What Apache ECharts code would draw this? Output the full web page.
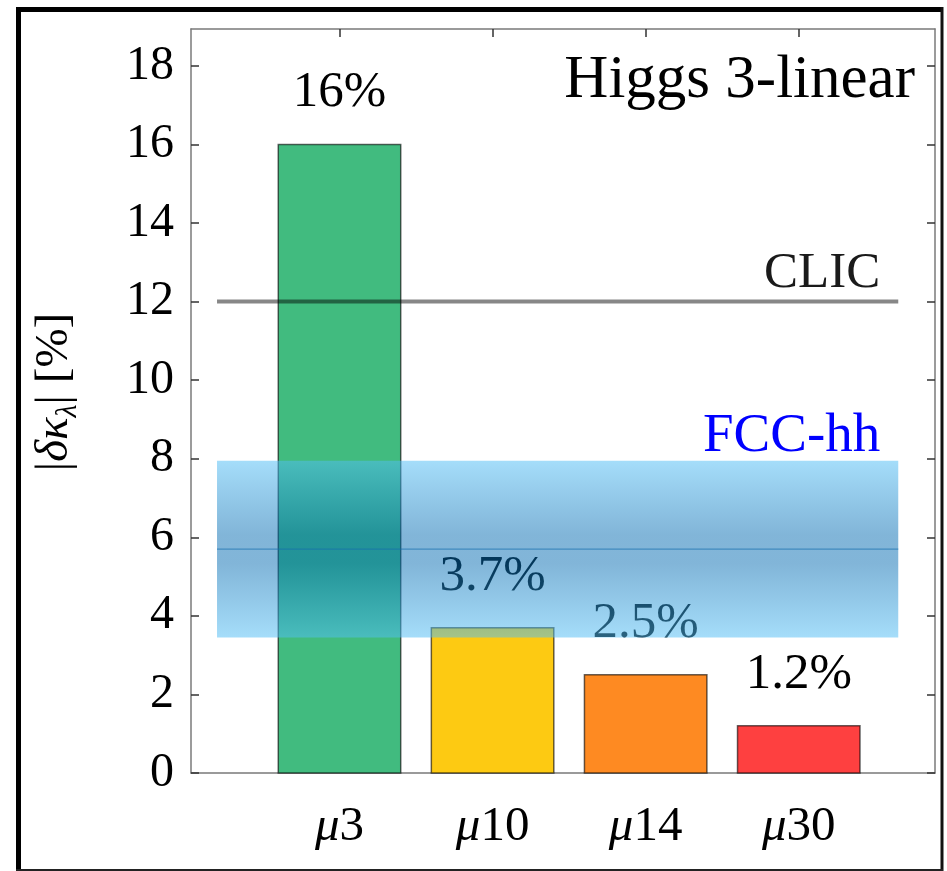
<!DOCTYPE html>
<html>
<head>
<meta charset="utf-8">
<script src="https://cdn.jsdelivr.net/npm/echarts@6/dist/echarts.min.js"></script>
<style>
  html, body { margin: 0; padding: 0; background: #fff; }
  #chart { width: 947px; height: 871px; }
</style>
</head>
<body>
<div id="chart"></div>
<script>
// Muon-collider energies (TeV) and the projected |δκ_λ| precision in percent
const energies = ['3', '10', '14', '30'];
const positions = [1, 2, 3, 4];
const precision = [16, 3.7, 2.5, 1.2];
const barColors = ['#41bb7f', '#fdca12', '#fe8a22', '#fe4040'];

// y-axis tick values
const yTicks = [0, 2, 4, 6, 8, 10, 12, 14, 16, 18];

// Reference projections from other colliders
const clicValue = 12;
const fccLow = 3.45;
const fccCentral = 5.7;
const fccHigh = 7.95;
const refStart = 0.2;
const refEnd = 4.65;

const SERIF = "'Liberation Serif', 'DejaVu Serif', serif";
const X_MIN = 0.03, X_MAX = 4.89;
const Y_MIN = 0, Y_MAX = 18.94;

const chart = echarts.init(document.getElementById('chart'), null, { renderer: 'canvas' });

const axisLineStyle = { color: '#7a7a7a', width: 1.5 };
const tickStyle = { color: '#333', width: 1.5 };

const option = {
  animation: false,
  backgroundColor: '#fff',
  grid: { left: 191, right: 12, top: 29, bottom: 98, show: false },
  xAxis: [
    {
      type: 'value', position: 'bottom', min: X_MIN, max: X_MAX,
      axisLine: { show: true, onZero: false, lineStyle: axisLineStyle },
      axisTick: { show: true, inside: true, length: 8, lineStyle: tickStyle, customValues: positions },
      axisLabel: {
        show: true, margin: 30, customValues: positions,
        formatter: (v) => {
          const i = positions.indexOf(Math.round(v));
          return i < 0 ? '' : '{mu|μ}{n|' + energies[i] + '}';
        },
        rich: {
          mu: { fontFamily: SERIF, fontSize: 49, fontStyle: 'italic', color: '#000' },
          n: { fontFamily: SERIF, fontSize: 49, color: '#000' }
        }
      },
      splitLine: { show: false }
    },
    {
      type: 'value', position: 'top', min: X_MIN, max: X_MAX,
      axisLine: { show: true, onZero: false, lineStyle: axisLineStyle },
      axisTick: { show: true, inside: true, length: 8, lineStyle: tickStyle, customValues: positions },
      axisLabel: { show: false },
      splitLine: { show: false }
    }
  ],
  yAxis: [
    {
      type: 'value', position: 'left', min: Y_MIN, max: Y_MAX,
      axisLine: { show: true, onZero: false, lineStyle: axisLineStyle },
      axisTick: { show: true, inside: true, length: 8, lineStyle: tickStyle, customValues: yTicks },
      axisLabel: {
        show: true, margin: 17, customValues: yTicks,
        fontFamily: SERIF, fontSize: 48, color: '#000'
      },
      splitLine: { show: false },
      name: '{n||}{i|δκ}{s|λ}{n|| [%]}',
      nameLocation: 'middle',
      nameRotate: 90,
      nameGap: 108,
      nameTextStyle: {
        padding: [0, 0, 0, 18],
        rich: {
          n: { fontFamily: SERIF, fontSize: 47, color: '#000', lineHeight: 56, verticalAlign: 'middle' },
          i: { fontFamily: SERIF, fontSize: 47, fontStyle: 'italic', color: '#000', lineHeight: 56, verticalAlign: 'middle' },
          s: { fontFamily: SERIF, fontSize: 30, fontStyle: 'italic', color: '#000', lineHeight: 56, verticalAlign: 'bottom' }
        }
      }
    },
    {
      type: 'value', position: 'right', min: Y_MIN, max: Y_MAX,
      axisLine: { show: true, onZero: false, lineStyle: axisLineStyle },
      axisTick: { show: true, inside: true, length: 8, lineStyle: tickStyle, customValues: yTicks },
      axisLabel: { show: false },
      splitLine: { show: false }
    }
  ],
  series: [
    {
      // precision bars with their value labels
      type: 'custom',
      z: 2,
      xAxisIndex: 0, yAxisIndex: 0,
      data: positions.map((p, i) => [p, precision[i]]),
      renderItem: (params, api) => {
        const x = api.value(0), v = api.value(1);
        const p0 = api.coord([x - 0.4, v]);
        const p1 = api.coord([x + 0.4, 0]);
        return {
          type: 'group',
          children: [
            {
              type: 'rect',
              shape: { x: p0[0], y: p0[1], width: p1[0] - p0[0], height: p1[1] - p0[1] },
              style: { fill: barColors[params.dataIndex], stroke: 'rgba(0,0,0,0.6)', lineWidth: 1.5 }
            },
            {
              type: 'text',
              x: (p0[0] + p1[0]) / 2,
              y: p0[1] - 26,
              style: {
                text: v + '%',
                fontFamily: SERIF, fontSize: 51, fill: '#000',
                align: 'center', verticalAlign: 'bottom'
              }
            }
          ]
        };
      }
    },
    {
      // FCC-hh projected band with its central value
      type: 'custom',
      z: 3,
      xAxisIndex: 0, yAxisIndex: 0,
      data: [[refStart, refEnd, fccLow, fccCentral, fccHigh]],
      renderItem: (params, api) => {
        const a = api.coord([api.value(0), api.value(4)]);
        const b = api.coord([api.value(1), api.value(2)]);
        const c = api.coord([api.value(0), api.value(3)]);
        return {
          type: 'group',
          children: [
            {
              type: 'rect',
              shape: { x: a[0], y: a[1], width: b[0] - a[0], height: b[1] - a[1] },
              style: {
                fill: new echarts.graphic.LinearGradient(0, 0, 0, 1, [
                  { offset: 0, color: 'rgba(82,190,245,0.52)' },
                  { offset: 0.42, color: 'rgba(5,108,178,0.5)' },
                  { offset: 0.58, color: 'rgba(5,108,178,0.5)' },
                  { offset: 1, color: 'rgba(82,190,245,0.52)' }
                ])
              }
            },
            {
              type: 'line',
              shape: { x1: a[0], y1: c[1], x2: b[0], y2: c[1] },
              style: { stroke: 'rgba(20,110,175,0.6)', lineWidth: 1.2 }
            },
            {
              type: 'text',
              x: b[0] - 18,
              y: a[1] + 3,
              style: {
                text: 'FCC-hh',
                fontFamily: SERIF, fontSize: 55, fill: '#0000ff',
                align: 'right', verticalAlign: 'bottom'
              }
            }
          ]
        };
      }
    },
    {
      // CLIC projection line
      type: 'custom',
      z: 4,
      xAxisIndex: 0, yAxisIndex: 0,
      data: [[refStart, refEnd, clicValue]],
      renderItem: (params, api) => {
        const a = api.coord([api.value(0), api.value(2)]);
        const b = api.coord([api.value(1), api.value(2)]);
        return {
          type: 'group',
          children: [
            {
              type: 'line',
              shape: { x1: a[0], y1: a[1], x2: b[0], y2: b[1] },
              style: { stroke: 'rgba(0,0,0,0.47)', lineWidth: 4 }
            },
            {
              type: 'text',
              x: b[0] - 18,
              y: b[1] - 3,
              style: {
                text: 'CLIC',
                fontFamily: SERIF, fontSize: 51, fill: '#1a1a1a',
                align: 'right', verticalAlign: 'bottom'
              }
            }
          ]
        };
      }
    }
  ],
  graphic: [
    {
      type: 'text', x: 915, y: 111, z: 10,
      style: {
        text: 'Higgs 3-linear',
        fontFamily: SERIF, fontSize: 61, fill: '#000',
        align: 'right', verticalAlign: 'bottom'
      }
    },
    // outer frame
    { type: 'line', shape: { x1: 18.5, y1: 7, x2: 18.5, y2: 871 }, style: { stroke: '#000', lineWidth: 5 }, z: 10 },
    { type: 'line', shape: { x1: 16, y1: 9.5, x2: 943, y2: 9.5 }, style: { stroke: '#000', lineWidth: 5 }, z: 10 },
    { type: 'line', shape: { x1: 942, y1: 7, x2: 942, y2: 871 }, style: { stroke: '#111', lineWidth: 3 }, z: 10 },
    { type: 'line', shape: { x1: 16, y1: 870, x2: 943, y2: 870 }, style: { stroke: '#222', lineWidth: 2 }, z: 10 }
  ]
};

chart.setOption(option);
</script>
</body>
</html>
